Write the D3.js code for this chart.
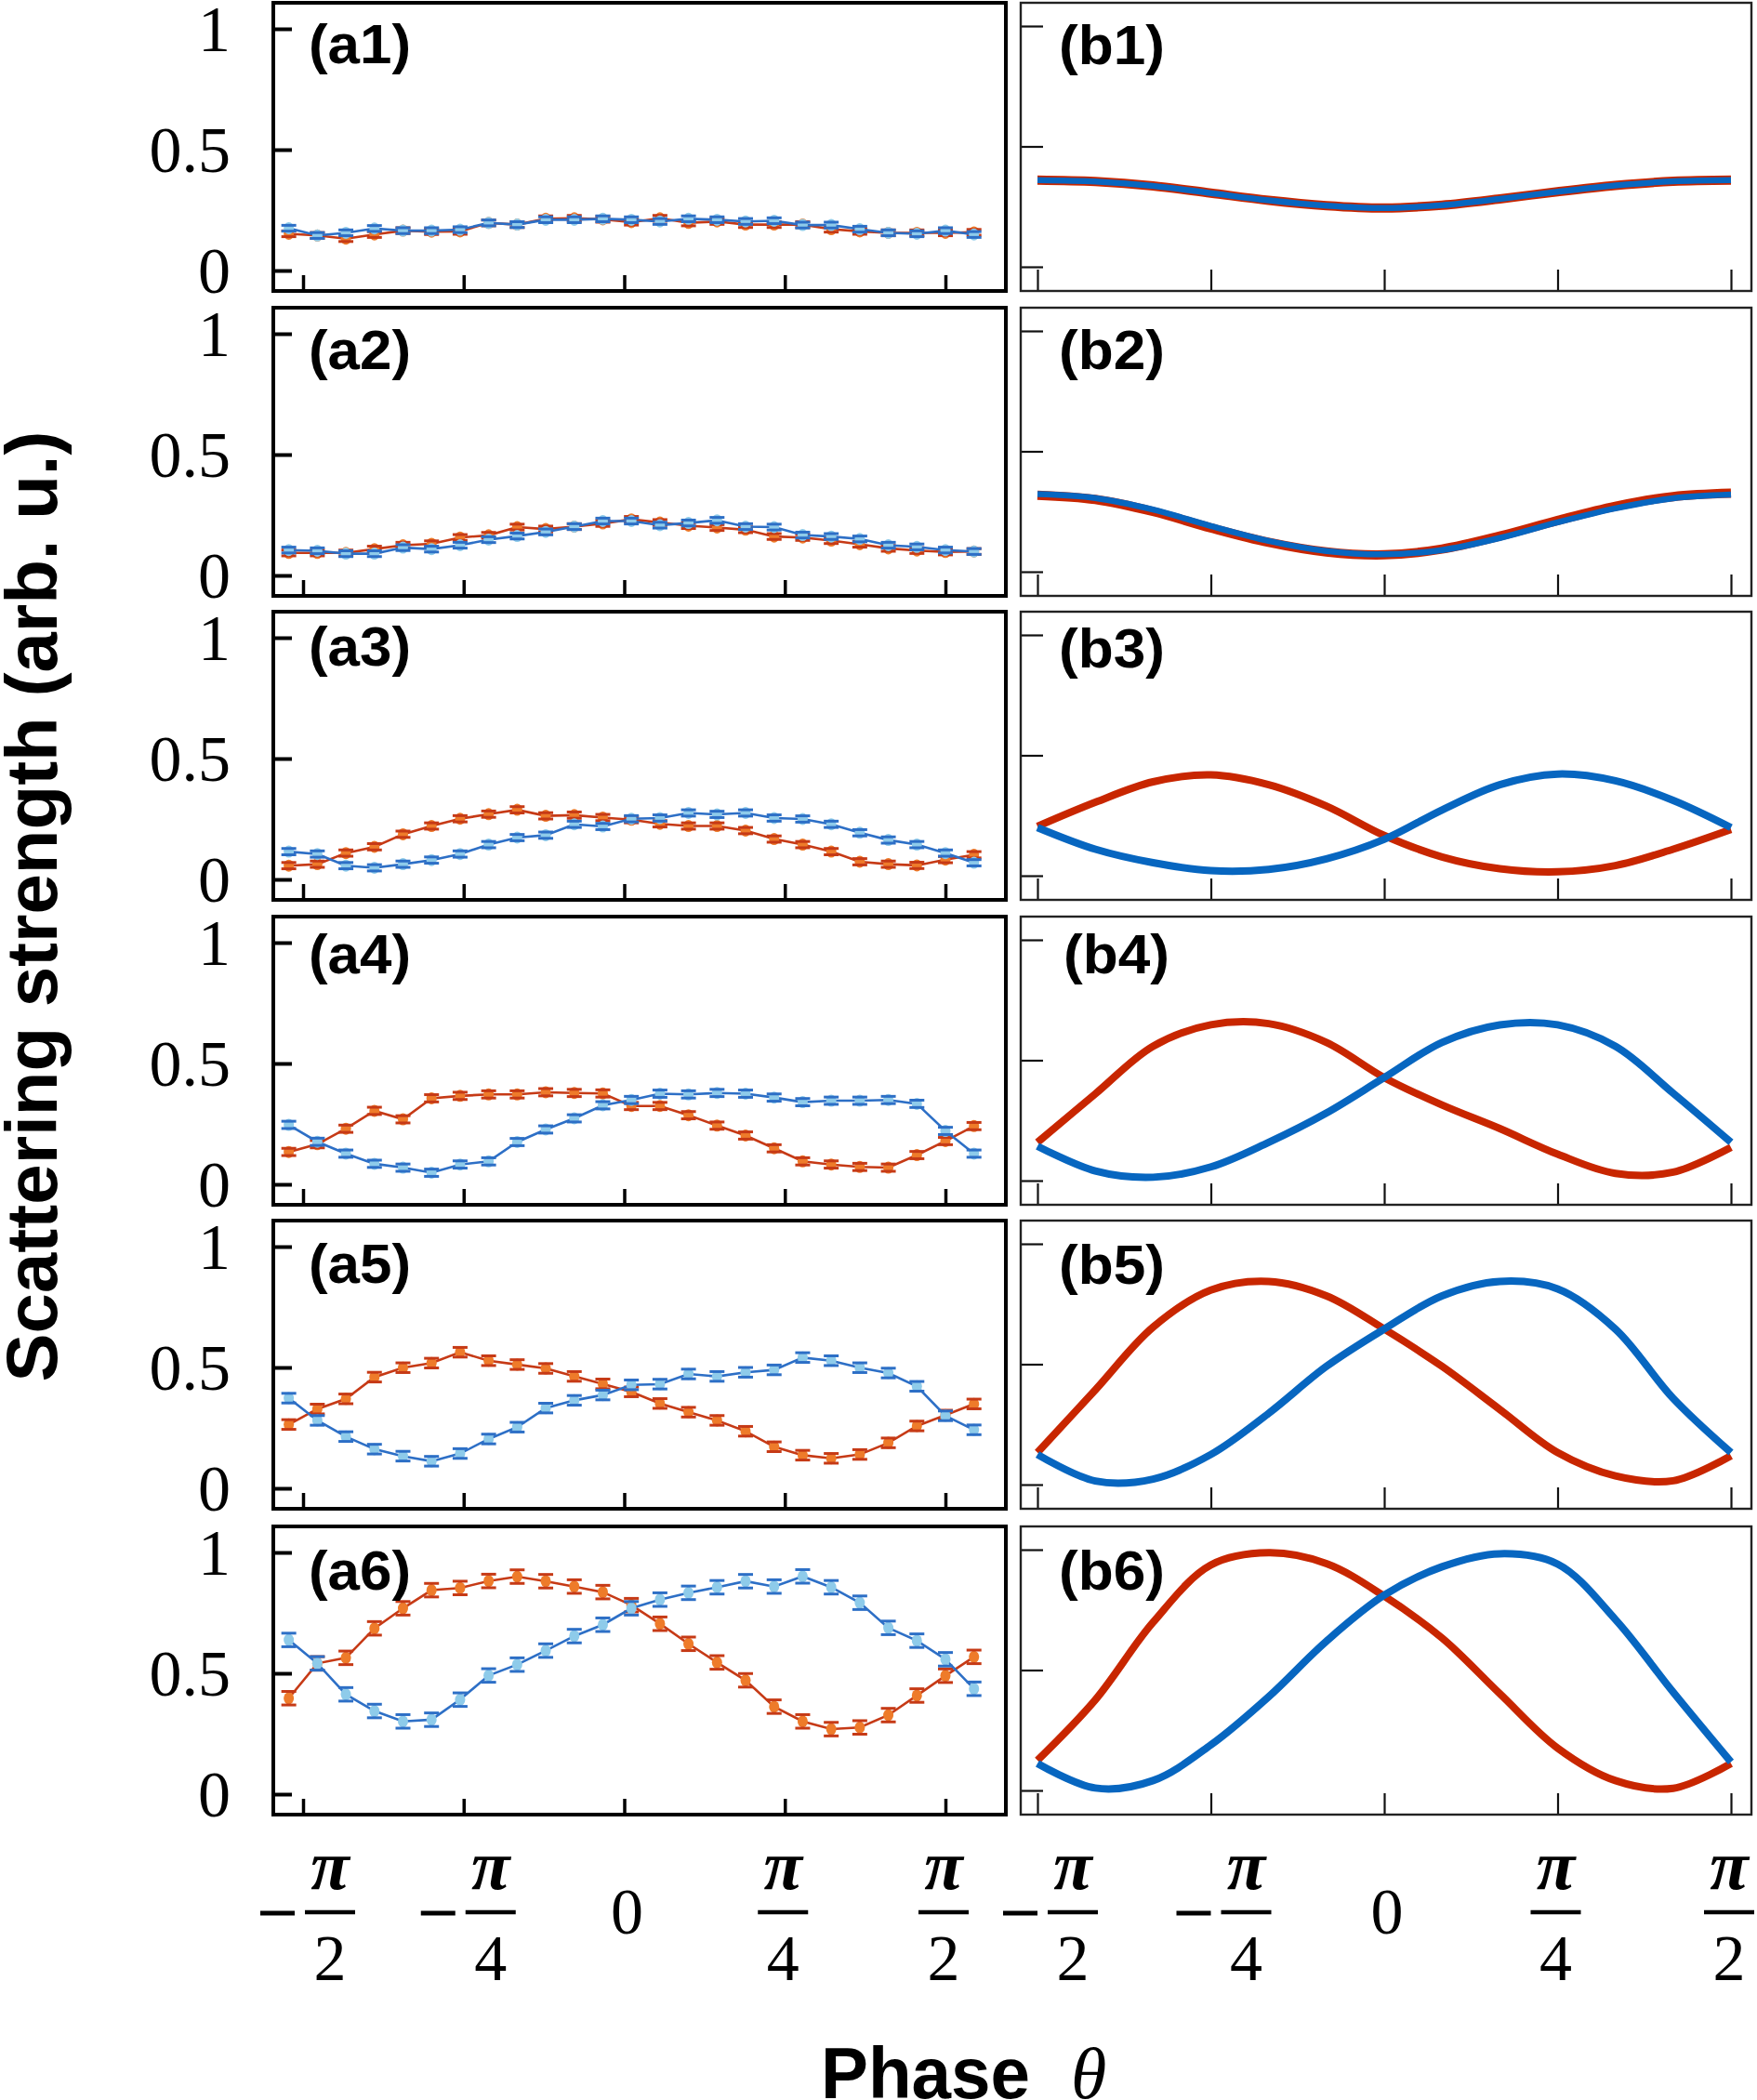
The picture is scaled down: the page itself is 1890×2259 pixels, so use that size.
<html>
<head>
    <script src="https://d3js.org/d3.v7.min.js"></script>
    <style>body { margin: 0; background: #fff; }</style>
</head>
<body>
    <svg id="s" width="1890" height="2259"></svg>
    <script>
        // measured phases (degrees) of the experimental points and of the simulated samples
        const phasesExp = [-94, -86, -78, -70, -62, -54, -46, -38, -30, -22, -14, -6, 2,
                           10, 18, 26, 34, 42, 50, 58, 66, 74, 82, 90, 98]
        const phasesSim = [-90, -75, -60, -45, -30, -15, 0, 15, 30, 45, 60, 75, 90]

        // (a1)..(a6) experiment, red/orange series
        const expRed = [
            [0.152,0.145,0.132,0.149,0.165,0.161,0.162,0.197,0.190,0.214,0.216,0.212,0.200,0.216,0.197,0.203,0.190,0.190,0.190,0.171,0.162,0.156,0.156,0.156,0.158],
            [0.093,0.093,0.093,0.109,0.125,0.131,0.157,0.166,0.200,0.192,0.202,0.215,0.232,0.219,0.206,0.198,0.189,0.161,0.157,0.144,0.129,0.112,0.103,0.097,0.099],
            [0.057,0.063,0.109,0.135,0.187,0.221,0.251,0.270,0.288,0.263,0.266,0.256,0.247,0.230,0.221,0.221,0.202,0.167,0.144,0.115,0.073,0.063,0.058,0.082,0.102],
            [0.134,0.166,0.230,0.304,0.269,0.356,0.366,0.372,0.372,0.381,0.378,0.376,0.324,0.324,0.286,0.243,0.202,0.149,0.095,0.082,0.072,0.069,0.121,0.179,0.241],
            [0.264,0.328,0.370,0.460,0.499,0.518,0.563,0.528,0.512,0.496,0.463,0.432,0.399,0.351,0.315,0.281,0.236,0.172,0.137,0.124,0.140,0.188,0.258,0.303,0.349],
            [0.397,0.541,0.564,0.686,0.769,0.844,0.853,0.882,0.900,0.881,0.859,0.836,0.782,0.705,0.622,0.545,0.471,0.362,0.301,0.269,0.276,0.327,0.408,0.490,0.568]
        ]
        // (a1)..(a6) experiment, blue series
        const expBlue = [
            [0.175,0.145,0.156,0.174,0.165,0.165,0.169,0.197,0.190,0.210,0.210,0.214,0.210,0.203,0.214,0.210,0.203,0.206,0.188,0.188,0.171,0.156,0.152,0.165,0.149],
            [0.105,0.102,0.090,0.090,0.115,0.109,0.125,0.148,0.163,0.180,0.202,0.225,0.225,0.208,0.217,0.228,0.202,0.200,0.167,0.161,0.151,0.125,0.118,0.105,0.099],
            [0.115,0.105,0.057,0.048,0.063,0.080,0.105,0.144,0.173,0.183,0.228,0.219,0.251,0.254,0.275,0.269,0.275,0.254,0.250,0.228,0.193,0.163,0.144,0.109,0.069],
            [0.246,0.176,0.127,0.085,0.069,0.048,0.082,0.095,0.175,0.227,0.273,0.327,0.349,0.375,0.372,0.378,0.375,0.359,0.340,0.346,0.346,0.349,0.333,0.221,0.127],
            [0.373,0.281,0.214,0.162,0.133,0.112,0.144,0.204,0.253,0.332,0.364,0.386,0.428,0.431,0.473,0.463,0.480,0.490,0.541,0.528,0.499,0.477,0.422,0.300,0.242],
            [0.638,0.541,0.413,0.344,0.301,0.308,0.391,0.491,0.536,0.594,0.654,0.701,0.769,0.805,0.833,0.856,0.881,0.859,0.901,0.856,0.792,0.688,0.635,0.558,0.436]
        ]
        // error bar half-heights per panel
        const expErr = [0.012, 0.012, 0.013, 0.015, 0.02, 0.028]

        // (b1)..(b6) simulation
        const simRed = [
            [0.360,0.354,0.336,0.306,0.276,0.254,0.244,0.256,0.282,0.312,0.338,0.355,0.360],
            [0.318,0.300,0.250,0.182,0.122,0.082,0.070,0.094,0.148,0.213,0.272,0.312,0.326],
            [0.205,0.305,0.390,0.419,0.378,0.289,0.167,0.078,0.029,0.016,0.042,0.110,0.192],
            [0.159,0.360,0.558,0.647,0.652,0.574,0.428,0.314,0.216,0.110,0.030,0.035,0.138],
            [0.133,0.393,0.654,0.808,0.844,0.784,0.646,0.491,0.312,0.133,0.036,0.016,0.120],
            [0.125,0.376,0.698,0.936,0.987,0.942,0.807,0.633,0.402,0.176,0.041,0.009,0.112]
        ]
        const simBlue = [
            [0.360,0.354,0.336,0.306,0.276,0.254,0.244,0.256,0.282,0.312,0.338,0.355,0.360],
            [0.322,0.306,0.258,0.190,0.128,0.086,0.072,0.090,0.140,0.205,0.263,0.305,0.320],
            [0.200,0.110,0.054,0.021,0.026,0.070,0.151,0.273,0.378,0.422,0.394,0.313,0.200],
            [0.143,0.040,0.014,0.057,0.159,0.281,0.428,0.574,0.647,0.647,0.558,0.363,0.159],
            [0.125,0.015,0.023,0.125,0.296,0.491,0.646,0.784,0.844,0.813,0.646,0.358,0.133],
            [0.112,0.010,0.041,0.189,0.389,0.620,0.811,0.929,0.983,0.940,0.710,0.408,0.118]
        ]

        const labelsA = ["(a1)", "(a2)", "(a3)", "(a4)", "(a5)", "(a6)"]
        const labelsB = ["(b1)", "(b2)", "(b3)", "(b4)", "(b5)", "(b6)"]
        const yTicks = [0, 0.5, 1]
        const xTicks = [-90, -45, 0, 45, 90]
        const xTickDen = ["2", "4", "0", "4", "2"]

        // layout
        const PANEL_H = 310
        const panelTop = [3, 331, 658, 986, 1313, 1642]
        const labelDyA = [65, 66, 58, 61, 67, 68]
        const labelDyB = [66, 66, 60, 61, 68, 68]
        const SERIF = "'Liberation Serif', 'Times New Roman', serif"
        const SANS = "'Liberation Sans', Arial, sans-serif"

        const RED_LINE = "#c63a16", RED_FILL = "#ee7b2a"
        const BLUE_LINE = "#2d6fc6", BLUE_FILL = "#8ecbea"
        const SIM_RED = "#c82600", SIM_BLUE = "#0766c0"

        const svg = d3.select("svg")

        const xA = d3.scaleLinear().domain([-90, 90]).range([326, 1017])
        const xB = d3.scaleLinear().domain([-90, 90]).range([1116, 1862])

        // ---------- left column: experiment ----------
        panelTop.forEach((top, i) => {
            const y = d3.scaleLinear().domain([0, 1]).range([top + 288, top + 28])
            const g = svg.append("g")

            const ya = g.append("g")
                .attr("transform", "translate(294,0)")
                .call(d3.axisLeft(y).tickValues(yTicks).tickSize(-20).tickPadding(46)
                    .tickFormat(d => d === 0.5 ? "0.5" : d3.format("d")(d)))
            ya.select(".domain").remove()
            ya.selectAll("line").attr("stroke", "#000").attr("stroke-width", 4)
            ya.selectAll("text")
                .attr("font-family", SERIF).attr("font-size", 70)
                .attr("fill", "#000").attr("dy", "0.34em")

            const xa = g.append("g")
                .attr("transform", `translate(0,${top + PANEL_H})`)
                .call(d3.axisBottom(xA).tickValues(xTicks).tickSize(-17).tickFormat(""))
            xa.select(".domain").remove()
            xa.selectAll("line").attr("stroke", "#000").attr("stroke-width", 3.5)

            const series = [
                { vals: expRed[i], line: RED_LINE, fill: RED_FILL },
                { vals: expBlue[i], line: BLUE_LINE, fill: BLUE_FILL }
            ]
            series.forEach(s => {
                const pts = s.vals.map((v, k) => ({ p: phasesExp[k], v: v }))
                g.append("path")
                    .datum(pts)
                    .attr("fill", "none")
                    .attr("stroke", s.line)
                    .attr("stroke-width", 2.6)
                    .attr("d", d3.line().x(d => xA(d.p)).y(d => y(d.v)))

                const e = g.append("g").selectAll("g").data(pts).enter().append("g")
                e.append("line")
                    .attr("x1", d => xA(d.p)).attr("x2", d => xA(d.p))
                    .attr("y1", d => y(d.v - expErr[i])).attr("y2", d => y(d.v + expErr[i]))
                    .attr("stroke", s.line).attr("stroke-width", 2.5)
                e.append("ellipse")
                    .attr("cx", d => xA(d.p)).attr("cy", d => y(d.v))
                    .attr("rx", 5.5).attr("ry", 6.5)
                    .attr("fill", s.fill)
                ;[-1, 1].forEach(sg => {
                    e.append("line")
                        .attr("x1", d => xA(d.p) - 8).attr("x2", d => xA(d.p) + 8)
                        .attr("y1", d => y(d.v + sg * expErr[i])).attr("y2", d => y(d.v + sg * expErr[i]))
                        .attr("stroke", s.line).attr("stroke-width", 3)
                })
            })

            g.append("rect")
                .attr("x", 294).attr("y", top)
                .attr("width", 788).attr("height", PANEL_H)
                .attr("fill", "none").attr("stroke", "#000").attr("stroke-width", 4)

            g.append("text")
                .attr("x", 332).attr("y", top + labelDyA[i])
                .attr("font-family", SANS).attr("font-weight", "bold")
                .attr("font-size", 60)
                .attr("textLength", 110).attr("lengthAdjust", "spacingAndGlyphs")
                .text(labelsA[i])
        })

        // ---------- right column: simulation ----------
        panelTop.forEach((top, i) => {
            const y = d3.scaleLinear().domain([0, 1]).range([top + 284, top + 25])
            const g = svg.append("g")

            const ya = g.append("g")
                .attr("transform", "translate(1098,0)")
                .call(d3.axisLeft(y).tickValues(yTicks).tickSize(-24).tickFormat(""))
            ya.select(".domain").remove()
            ya.selectAll("line").attr("stroke", "#111").attr("stroke-width", 2.2)

            const xa = g.append("g")
                .attr("transform", `translate(0,${top + PANEL_H})`)
                .call(d3.axisBottom(xB).tickValues(xTicks).tickSize(-23).tickFormat(""))
            xa.select(".domain").remove()
            xa.selectAll("line").attr("stroke", "#111").attr("stroke-width", 2.2)

            const line = d3.line()
                .x(d => xB(d.p)).y(d => y(d.v))
                .curve(d3.curveCatmullRom.alpha(0.5))

            const red = simRed[i].map((v, k) => ({ p: phasesSim[k], v: v }))
            const blue = simBlue[i].map((v, k) => ({ p: phasesSim[k], v: v }))
            g.append("path").datum(red)
                .attr("fill", "none").attr("stroke", SIM_RED)
                .attr("stroke-width", i < 2 ? 10 : 8)
                .attr("d", line)
            g.append("path").datum(blue)
                .attr("fill", "none").attr("stroke", SIM_BLUE)
                .attr("stroke-width", i < 2 ? 6.5 : 8)
                .attr("d", line)

            g.append("rect")
                .attr("x", 1098).attr("y", top)
                .attr("width", 786).attr("height", PANEL_H)
                .attr("fill", "none").attr("stroke", "#222").attr("stroke-width", 2.4)

            g.append("text")
                .attr("x", i === 3 ? 1144 : 1139).attr("y", top + labelDyB[i])
                .attr("font-family", SANS).attr("font-weight", "bold")
                .attr("font-size", 60)
                .attr("textLength", 114).attr("lengthAdjust", "spacingAndGlyphs")
                .text(labelsB[i])
        })

        // ---------- x tick labels (fractions of pi) ----------
        function piLabels(xs, negShift) {
            xTicks.forEach((v, k) => {
                const t = xs(v)
                const g = svg.append("g")
                if (v === 0) {
                    g.append("text")
                        .attr("x", t + 3).attr("y", 2080)
                        .attr("text-anchor", "middle")
                        .attr("font-family", SERIF).attr("font-size", 70)
                        .text(xTickDen[k])
                    return
                }
                const cx = v < 0 ? t + negShift : t - 2
                g.append("text")
                    .attr("x", cx).attr("y", 2032)
                    .attr("text-anchor", "middle")
                    .attr("font-family", SERIF).attr("font-style", "italic")
                    .attr("font-weight", "bold")
                    .attr("font-size", 76)
                    .text("π")
                g.append("line")
                    .attr("x1", cx - 27).attr("x2", cx + 27)
                    .attr("y1", 2057).attr("y2", 2057)
                    .attr("stroke", "#000").attr("stroke-width", 4.5)
                g.append("text")
                    .attr("x", cx).attr("y", 2130)
                    .attr("text-anchor", "middle")
                    .attr("font-family", SERIF).attr("font-size", 70)
                    .text(xTickDen[k])
                if (v < 0) {
                    g.append("line")
                        .attr("x1", cx - 75).attr("x2", cx - 38)
                        .attr("y1", 2058).attr("y2", 2058)
                        .attr("stroke", "#000").attr("stroke-width", 5)
                }
            })
        }
        piLabels(xA, 29)
        piLabels(xB, 38)

        // ---------- axis titles ----------
        svg.append("text")
            .attr("transform", "translate(61,975) rotate(-90)")
            .attr("text-anchor", "middle")
            .attr("font-family", SANS).attr("font-weight", "bold")
            .attr("font-size", 78)
            .attr("textLength", 1023).attr("lengthAdjust", "spacingAndGlyphs")
            .text("Scattering strength (arb. u.)")

        svg.append("text")
            .attr("x", 883).attr("y", 2257)
            .attr("font-family", SANS).attr("font-weight", "bold")
            .attr("font-size", 78)
            .attr("textLength", 225).attr("lengthAdjust", "spacingAndGlyphs")
            .text("Phase")
        svg.append("text")
            .attr("x", 1152).attr("y", 2257)
            .attr("font-family", SERIF).attr("font-style", "italic")
            .attr("font-size", 78)
            .text("θ")
    </script>
</body>
</html>
